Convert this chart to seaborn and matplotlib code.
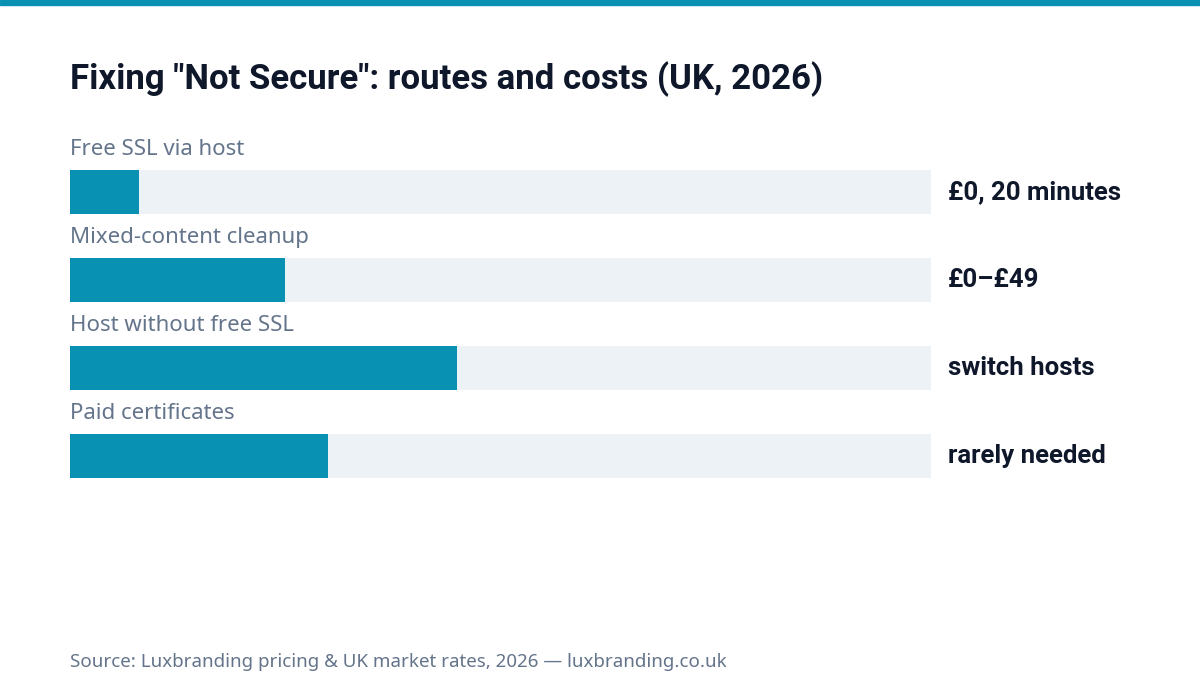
import matplotlib
matplotlib.use("Agg")
import matplotlib.pyplot as plt
import seaborn as sns
import pandas as pd

routes = ["Free SSL via host", "Mixed-content cleanup", "Host without free SSL", "Paid certificates"]
scores = [8, 25, 45, 30]
notes = ["£0, 20 minutes", "£0–£49", "switch hosts", "rarely needed"]
max_score = 100

sns.set_theme(style="white")
plt.rcParams["font.family"] = ["Noto Sans", "DejaVu Sans"]
bold_font = ["Roboto", "DejaVu Sans"]

teal = "#0891b2"
track = "#edf2f7"
df = pd.DataFrame({"route": routes, "score": scores, "full": [max_score] * len(routes)})

fig = plt.figure(figsize=(12, 7), dpi=100)
fig.patch.set_facecolor("white")
fig.add_artist(plt.Rectangle((0, 1 - 5 / 700), 1, 5 / 700, color=teal, transform=fig.transFigure))

ax = fig.add_axes([70 / 1200, 1 - 500 / 700, 861 / 1200, 352 / 700])
sns.barplot(data=df, y="route", x="full", color=track, width=0.5, ax=ax, saturation=1, linewidth=0)
sns.barplot(data=df, y="route", x="score", color=teal, width=0.5, ax=ax, saturation=1, linewidth=0)
ax.set_xlim(0, max_score)
ax.set_ylim(3.5, -0.5)
ax.axis("off")

for i, (r, n) in enumerate(zip(routes, notes)):
    ax.text(0, i - 0.48, r, fontsize=16, color="#64748b", va="center", ha="left")
    ax.text(1.02, i, n, transform=ax.get_yaxis_transform(), fontsize=18.5, family=bold_font,
            fontweight="bold", color="#0f172a", va="center", ha="left")

fig.text(70 / 1200, 1 - 79 / 700, 'Fixing "Not Secure": routes and costs (UK, 2026)',
         fontsize=25, fontweight="bold", family=bold_font, color="#0f172a", va="center")
fig.text(70 / 1200, 1 - 662 / 700, "Source: Luxbranding pricing & UK market rates, 2026 — luxbranding.co.uk",
         fontsize=13.5, color="#64748b", va="center")

fig.savefig("out.png", dpi=100, facecolor="white")
